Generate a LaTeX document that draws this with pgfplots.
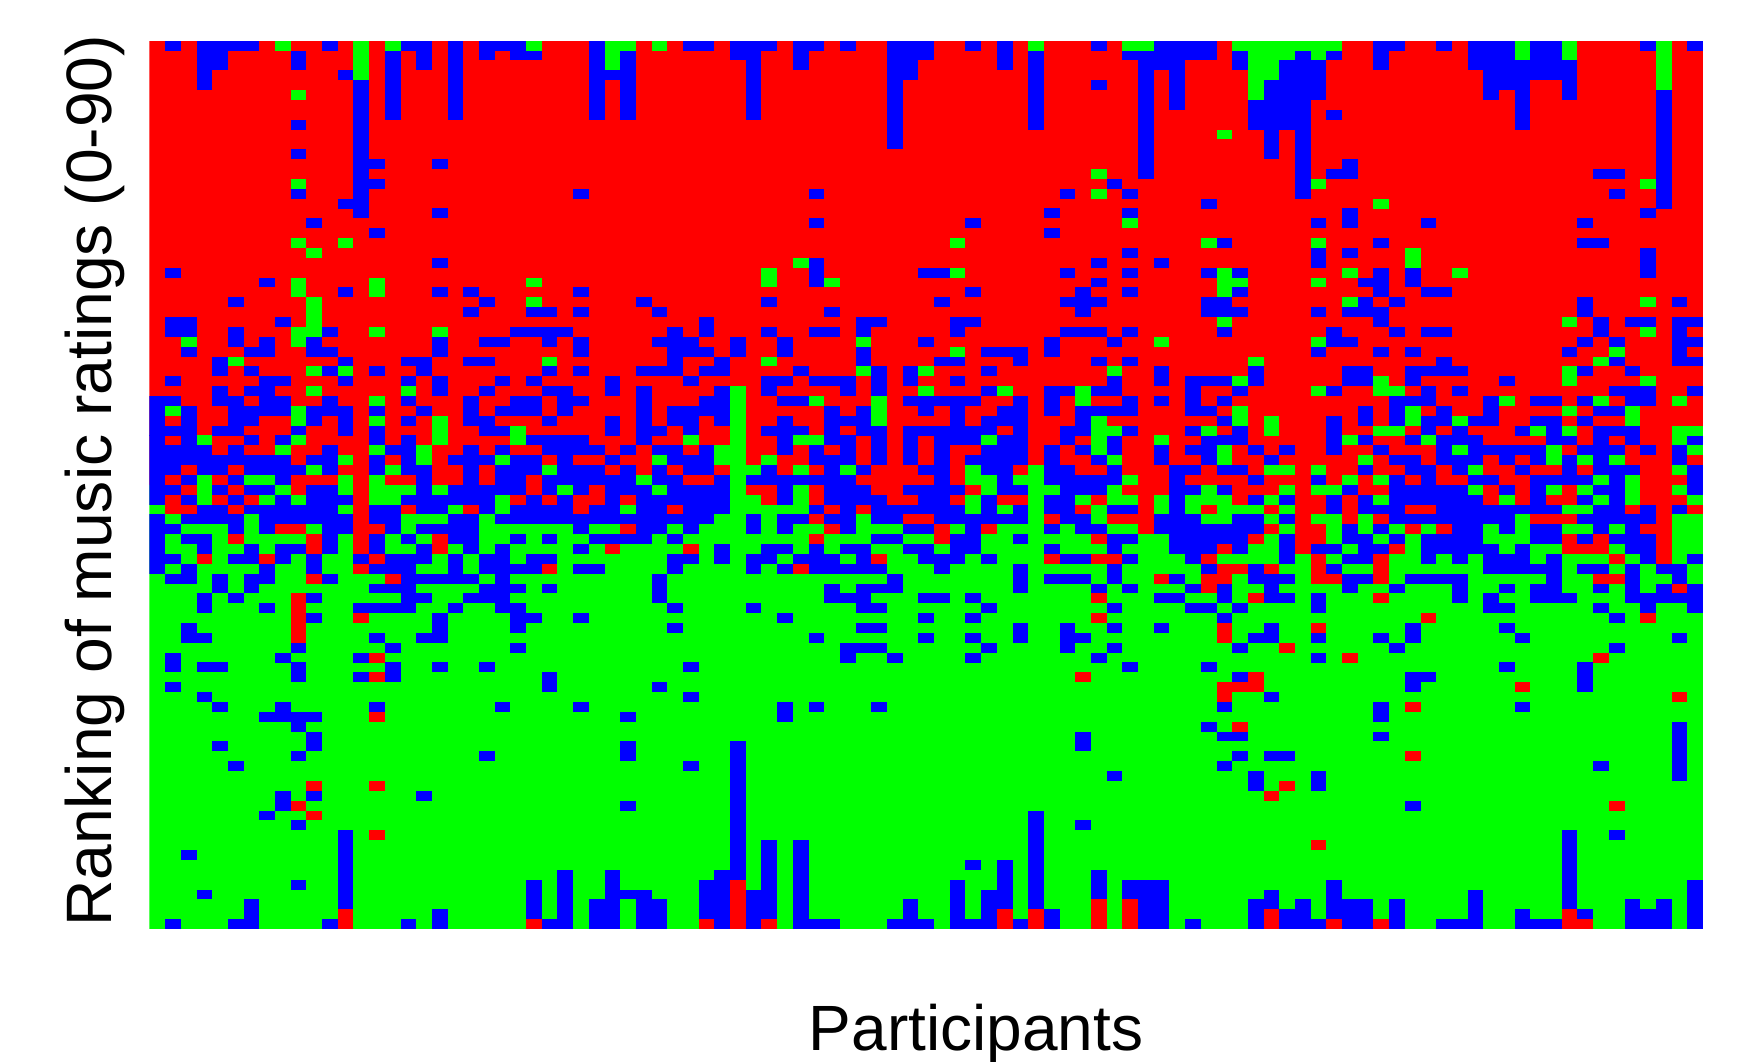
\documentclass[border=0pt]{standalone}
\usepackage{pgfplots}
\usepackage{pgfplotstable}
\pgfplotsset{compat=1.18}
\usepackage{fontspec}
\setmainfont{Liberation Sans}
\pgfplotsset{run/.style={draw=none,mark=none,forget plot,error bars/.cd,x dir=plus,x explicit,error mark=none,error bar style={line width=4.95pt,solid,color=#1}}}
\pgfplotstableread[row sep=\\]{
x y n\\
1 0 1\\3 0 4\\11 0 1\\16 0 2\\19 0 1\\21 0 3\\28 0 1\\34 0 2\\37 0 3\\41 0 2\\44 0 1\\47 0 3\\52 0 1\\54 0 1\\60 0 1\\64 0 4\\78 0 2\\82 0 1\\84 0 3\\88 0 2\\95 0 1\\98 0 1\\
3 1 2\\9 1 1\\15 1 1\\17 1 1\\19 1 1\\21 1 1\\23 1 2\\28 1 1\\30 1 1\\37 1 2\\41 1 1\\47 1 3\\54 1 1\\56 1 1\\62 1 6\\69 1 1\\73 1 1\\75 1 1\\78 1 1\\84 1 3\\88 1 2\\
3 2 2\\9 2 1\\15 2 1\\17 2 1\\19 2 1\\28 2 1\\30 2 1\\38 2 1\\41 2 1\\47 2 2\\54 2 1\\56 2 1\\63 2 3\\69 2 1\\72 2 3\\78 2 1\\84 2 7\\
3 3 1\\12 3 1\\15 3 1\\19 3 1\\28 3 3\\38 3 1\\47 3 2\\56 3 1\\63 3 1\\65 3 1\\72 3 3\\85 3 6\\
3 4 1\\13 4 1\\15 4 1\\19 4 1\\28 4 1\\30 4 1\\38 4 1\\47 4 1\\56 4 1\\60 4 1\\63 4 1\\65 4 1\\71 4 4\\85 4 3\\90 4 1\\
13 5 1\\15 5 1\\19 5 1\\28 5 1\\30 5 1\\38 5 1\\47 5 1\\56 5 1\\63 5 1\\65 5 1\\71 5 4\\85 5 1\\87 5 1\\90 5 1\\96 5 1\\
13 6 1\\15 6 1\\19 6 1\\28 6 1\\30 6 1\\38 6 1\\47 6 1\\56 6 1\\63 6 1\\65 6 1\\70 6 4\\87 6 1\\96 6 1\\
13 7 1\\15 7 1\\19 7 1\\28 7 1\\30 7 1\\38 7 1\\47 7 1\\56 7 1\\63 7 1\\70 7 4\\75 7 1\\87 7 1\\96 7 1\\
9 8 1\\13 8 1\\47 8 1\\56 8 1\\63 8 1\\70 8 4\\87 8 1\\96 8 1\\
13 9 1\\47 9 1\\63 9 1\\71 9 1\\73 9 1\\96 9 1\\
13 10 1\\47 10 1\\63 10 1\\71 10 1\\73 10 1\\96 10 1\\
9 11 1\\13 11 1\\63 11 1\\71 11 1\\73 11 1\\96 11 1\\
13 12 2\\18 12 1\\63 12 1\\73 12 1\\76 12 1\\96 12 1\\
13 13 1\\63 13 1\\73 13 1\\75 13 2\\92 13 2\\96 13 1\\
13 14 2\\61 14 1\\73 14 1\\96 14 1\\
9 15 1\\13 15 1\\27 15 1\\42 15 1\\58 15 1\\62 15 1\\73 15 1\\93 15 1\\96 15 1\\
12 16 2\\67 16 1\\96 16 1\\
13 17 1\\18 17 1\\57 17 1\\62 17 1\\76 17 1\\95 17 1\\
10 18 1\\42 18 1\\52 18 1\\74 18 1\\76 18 1\\81 18 1\\91 18 1\\
14 19 1\\57 19 1\\
68 20 1\\78 20 1\\91 20 2\\
62 21 1\\74 21 1\\76 21 1\\95 21 1\\
18 22 1\\42 22 1\\60 22 1\\64 22 1\\74 22 1\\95 22 1\\
1 23 1\\42 23 1\\49 23 2\\58 23 1\\62 23 1\\67 23 1\\69 23 1\\78 23 1\\80 23 1\\95 23 1\\
7 24 1\\42 24 1\\60 24 1\\77 24 2\\80 24 1\\
12 25 1\\18 25 1\\20 25 1\\27 25 1\\52 25 1\\59 25 1\\62 25 1\\69 25 1\\78 25 1\\81 25 2\\
5 26 1\\21 26 1\\31 26 1\\39 26 1\\50 26 1\\58 26 3\\67 26 2\\77 26 1\\79 26 1\\91 26 1\\97 26 1\\
20 27 1\\24 27 2\\27 27 1\\32 27 1\\43 27 1\\59 27 1\\67 27 3\\74 27 1\\76 27 3\\91 27 1\\
1 28 2\\8 28 1\\35 28 1\\45 28 2\\51 28 2\\78 28 1\\92 28 1\\94 28 2\\97 28 2\\
1 29 2\\5 29 1\\11 29 1\\23 29 4\\33 29 1\\35 29 1\\39 29 1\\42 29 2\\45 29 1\\51 29 1\\58 29 3\\62 29 1\\68 29 1\\75 29 1\\79 29 1\\81 29 2\\92 29 1\\97 29 1\\
5 30 1\\7 30 1\\10 30 1\\18 30 1\\21 30 2\\25 30 1\\27 30 1\\32 30 3\\37 30 1\\40 30 1\\49 30 1\\57 30 1\\61 30 1\\75 30 2\\91 30 1\\93 30 1\\97 30 2\\
2 31 1\\6 31 2\\10 31 2\\18 31 1\\27 31 1\\33 31 3\\37 31 1\\40 31 1\\45 31 1\\53 31 3\\57 31 1\\74 31 1\\78 31 1\\80 31 1\\90 31 1\\97 31 1\\
4 32 1\\12 32 1\\16 32 2\\20 32 2\\33 32 1\\36 32 1\\45 32 1\\50 32 2\\55 32 1\\60 32 1\\62 32 1\\82 32 1\\93 32 1\\97 32 2\\
4 33 1\\6 33 1\\11 33 1\\14 33 1\\17 33 1\\25 33 1\\27 33 1\\31 33 3\\35 33 2\\41 33 1\\46 33 1\\48 33 1\\53 33 1\\64 33 1\\70 33 1\\76 33 2\\80 33 4\\91 33 1\\94 33 1\\
1 34 1\\7 34 2\\12 34 1\\16 34 1\\18 34 1\\22 34 1\\24 34 1\\29 34 1\\34 34 1\\39 34 2\\42 34 3\\46 34 1\\48 34 1\\51 34 1\\61 34 1\\64 34 1\\66 34 3\\70 34 1\\76 34 2\\80 34 1\\86 34 1\\
4 35 1\\6 35 2\\18 35 1\\21 35 1\\25 35 2\\29 35 1\\31 35 1\\36 35 1\\39 35 1\\44 35 1\\46 35 1\\53 35 1\\57 35 2\\60 35 2\\66 35 1\\69 35 1\\75 35 1\\81 35 1\\83 35 1\\93 35 3\\98 35 1\\
0 36 2\\4 36 2\\7 36 2\\11 36 1\\16 36 1\\20 36 1\\23 36 2\\26 36 2\\31 36 1\\35 36 2\\40 36 2\\48 36 5\\55 36 1\\57 36 1\\62 36 1\\64 36 1\\66 36 1\\68 36 1\\79 36 3\\85 36 1\\88 36 2\\91 36 1\\94 36 2\\
0 37 1\\2 37 1\\5 37 4\\10 37 3\\14 37 1\\17 37 1\\20 37 1\\22 37 3\\26 37 1\\31 37 1\\33 37 4\\43 37 1\\45 37 1\\49 37 1\\51 37 1\\54 37 2\\57 37 1\\59 37 4\\66 37 2\\77 37 1\\79 37 1\\82 37 1\\85 37 1\\92 37 2\\
0 38 1\\2 38 1\\5 38 2\\10 38 1\\12 38 1\\16 38 1\\20 38 2\\25 38 1\\29 38 1\\31 38 1\\33 38 2\\36 38 1\\40 38 1\\43 38 3\\51 38 1\\53 38 3\\59 38 1\\68 38 1\\75 38 1\\77 38 1\\79 38 1\\81 38 2\\84 38 2\\88 38 2\\91 38 1\\
0 39 3\\4 39 2\\9 39 1\\12 39 1\\14 39 1\\21 39 2\\29 39 1\\31 39 2\\34 39 1\\39 39 3\\43 39 1\\45 39 2\\48 39 6\\55 39 1\\58 39 2\\62 39 1\\66 39 1\\69 39 1\\75 39 1\\81 39 1\\83 39 1\\87 39 1\\89 39 1\\92 39 3\\
0 40 1\\2 40 1\\6 40 1\\8 40 1\\14 40 1\\16 40 1\\24 40 4\\31 40 1\\40 40 1\\43 40 2\\46 40 1\\48 40 1\\50 40 3\\54 40 2\\58 40 1\\61 40 1\\67 40 3\\75 40 1\\77 40 1\\80 40 1\\82 40 3\\89 40 2\\92 40 1\\94 40 1\\98 40 1\\
0 41 4\\5 41 1\\11 41 1\\15 41 2\\20 41 1\\22 41 1\\25 41 4\\30 41 1\\32 41 2\\35 41 1\\40 41 1\\42 41 1\\44 41 1\\46 41 1\\48 41 1\\50 41 1\\53 41 3\\57 41 1\\59 41 1\\61 41 1\\64 41 1\\66 41 2\\70 41 1\\72 41 1\\75 41 1\\78 41 1\\82 41 1\\84 41 5\\91 41 3\\95 41 1\\97 41 1\\
0 42 9\\10 42 2\\14 42 1\\16 42 1\\19 42 3\\23 42 2\\26 42 1\\29 42 1\\33 42 3\\42 42 3\\46 42 1\\48 42 1\\50 42 1\\52 42 4\\57 42 1\\60 42 1\\64 42 1\\67 42 1\\71 42 1\\79 42 2\\82 42 3\\86 42 1\\88 42 1\\90 42 1\\92 42 1\\97 42 1\\
0 43 2\\3 43 2\\6 43 4\\11 43 1\\14 43 1\\16 43 2\\20 43 1\\22 43 3\\26 43 3\\30 43 1\\32 43 1\\34 43 2\\39 43 1\\43 43 1\\45 43 1\\49 43 2\\53 43 2\\57 43 2\\61 43 1\\65 43 2\\68 43 2\\77 43 1\\80 43 2\\83 43 1\\87 43 1\\90 43 1\\92 43 3\\98 43 1\\
0 44 1\\2 44 1\\5 44 1\\8 44 1\\17 44 1\\20 44 1\\22 44 2\\25 44 6\\32 44 2\\36 44 1\\38 44 7\\50 44 1\\54 44 1\\57 44 5\\65 44 1\\70 44 1\\74 44 1\\79 44 1\\81 44 1\\84 44 2\\88 44 4\\93 44 1\\98 44 1\\
0 45 2\\4 45 1\\6 45 2\\10 45 2\\17 45 1\\19 45 5\\25 45 1\\27 45 1\\29 45 3\\33 45 4\\40 45 1\\43 45 3\\48 45 4\\54 45 2\\58 45 3\\65 45 2\\68 45 1\\76 45 1\\79 45 5\\86 45 1\\88 45 1\\92 45 2\\98 45 1\\
0 46 1\\2 46 1\\5 46 1\\8 46 1\\10 46 3\\16 46 6\\24 46 1\\26 46 1\\29 46 1\\31 46 6\\40 46 1\\43 46 4\\49 46 2\\53 46 1\\57 46 2\\65 46 1\\70 46 1\\72 46 1\\75 46 1\\77 46 1\\79 46 6\\88 46 1\\91 46 1\\93 46 1\\
3 47 2\\6 47 6\\14 47 2\\17 47 2\\21 47 1\\23 47 4\\28 47 2\\31 47 2\\34 47 3\\42 47 1\\44 47 1\\46 47 6\\53 47 1\\55 47 1\\57 47 2\\61 47 2\\65 47 1\\75 47 1\\77 47 3\\82 47 8\\92 47 2\\95 47 1\\97 47 1\\
0 48 1\\2 48 4\\7 48 6\\14 48 2\\19 48 2\\22 48 14\\38 48 1\\40 48 2\\43 48 2\\46 48 2\\50 48 6\\58 48 2\\64 48 3\\69 48 2\\72 48 1\\79 48 8\\91 48 5\\
0 49 2\\5 49 1\\7 49 1\\11 49 2\\15 49 1\\17 49 4\\27 49 1\\31 49 2\\34 49 1\\38 49 1\\40 49 1\\44 49 1\\48 49 2\\52 49 1\\57 49 1\\59 49 2\\64 49 7\\76 49 1\\78 49 1\\83 49 2\\86 49 1\\88 49 2\\92 49 1\\94 49 1\\
0 50 1\\2 50 2\\11 50 1\\14 50 1\\16 50 1\\19 50 2\\23 50 1\\25 50 1\\28 50 4\\33 50 1\\46 50 2\\51 50 2\\55 50 1\\61 50 2\\65 50 5\\72 50 1\\76 50 2\\79 50 1\\81 50 4\\88 50 2\\91 50 1\\93 50 3\\
0 51 1\\3 51 1\\6 51 1\\8 51 2\\11 51 1\\14 51 1\\17 51 1\\20 51 1\\22 51 1\\27 51 1\\36 51 1\\39 51 2\\42 51 1\\44 51 2\\48 51 2\\51 51 2\\57 51 1\\61 51 1\\65 51 3\\69 51 1\\72 51 1\\74 51 2\\77 51 2\\81 51 5\\87 51 1\\94 51 2\\
0 52 2\\5 52 2\\8 52 1\\10 52 1\\13 52 1\\15 52 3\\19 52 1\\21 52 2\\24 52 2\\33 52 2\\36 52 1\\38 52 2\\41 52 3\\45 52 1\\49 52 3\\53 52 1\\58 52 2\\62 52 1\\66 52 1\\72 52 1\\76 52 2\\81 52 1\\83 52 1\\85 52 3\\89 52 1\\95 52 1\\98 52 1\\
0 53 1\\2 53 1\\7 53 1\\10 53 1\\14 53 3\\19 53 1\\21 53 4\\27 53 2\\33 53 1\\38 53 1\\40 53 1\\42 53 5\\50 53 1\\55 53 1\\61 53 1\\67 53 1\\70 53 1\\75 53 1\\85 53 5\\91 53 2\\94 53 1\\96 53 2\\
1 54 2\\4 54 1\\6 54 2\\11 54 1\\16 54 5\\22 54 1\\32 54 1\\47 54 1\\55 54 1\\57 54 3\\61 54 1\\65 54 1\\70 54 3\\76 54 2\\80 54 4\\89 54 1\\94 54 1\\97 54 1\\
4 55 1\\6 55 1\\14 55 3\\21 55 3\\25 55 1\\32 55 1\\43 55 1\\45 55 3\\55 55 1\\60 55 1\\62 55 1\\66 55 1\\68 55 1\\71 55 1\\76 55 1\\79 55 1\\83 55 1\\86 55 1\\88 55 2\\92 55 1\\94 55 1\\96 55 1\\98 55 1\\
3 56 1\\5 56 1\\10 56 1\\16 56 2\\20 56 3\\32 56 1\\43 56 3\\49 56 2\\52 56 1\\64 56 2\\68 56 1\\71 56 2\\74 56 1\\83 56 1\\85 56 1\\88 56 3\\94 56 5\\
3 57 1\\7 57 1\\13 57 4\\19 57 1\\22 57 2\\33 57 1\\38 57 1\\45 57 2\\53 57 1\\61 57 1\\66 57 2\\69 57 1\\74 57 1\\85 57 2\\92 57 1\\95 57 1\\98 57 1\\
10 58 1\\18 58 1\\23 58 2\\27 58 1\\40 58 1\\49 58 1\\52 58 1\\68 58 1\\93 58 1\\
2 59 1\\18 59 1\\23 59 1\\33 59 1\\45 59 2\\55 59 1\\58 59 1\\61 59 1\\64 59 1\\71 59 1\\80 59 1\\86 59 1\\
2 60 2\\14 60 1\\17 60 2\\42 60 1\\49 60 1\\52 60 1\\55 60 1\\58 60 2\\70 60 2\\74 60 1\\78 60 1\\80 60 1\\87 60 1\\97 60 1\\
9 61 1\\15 61 1\\23 61 1\\44 61 3\\53 61 1\\58 61 1\\61 61 1\\69 61 1\\79 61 1\\93 61 1\\
1 62 1\\8 62 1\\13 62 1\\44 62 1\\47 62 1\\52 62 1\\60 62 1\\74 62 1\\
1 63 1\\3 63 2\\9 63 1\\15 63 1\\18 63 1\\21 63 1\\34 63 1\\62 63 1\\67 63 1\\86 63 1\\91 63 1\\
9 64 1\\13 64 1\\15 64 1\\25 64 1\\69 64 1\\80 64 2\\91 64 1\\
1 65 1\\25 65 1\\32 65 1\\80 65 1\\91 65 1\\
3 66 1\\34 66 1\\71 66 1\\
4 67 1\\8 67 1\\14 67 1\\22 67 1\\27 67 1\\40 67 1\\42 67 1\\46 67 1\\68 67 1\\78 67 1\\87 67 1\\
7 68 4\\30 68 1\\40 68 1\\78 68 1\\
9 69 1\\67 69 1\\97 69 1\\
10 70 1\\59 70 1\\68 70 2\\78 70 1\\97 70 1\\
4 71 1\\10 71 1\\30 71 1\\37 71 1\\59 71 1\\97 71 1\\
9 72 1\\21 72 1\\30 72 1\\37 72 1\\69 72 1\\71 72 2\\97 72 1\\
5 73 1\\34 73 1\\37 73 1\\68 73 1\\92 73 1\\97 73 1\\
37 74 1\\61 74 1\\70 74 1\\74 74 1\\97 74 1\\
37 75 1\\70 75 1\\74 75 1\\
8 76 1\\10 76 1\\17 76 1\\37 76 1\\
8 77 1\\30 77 1\\37 77 1\\80 77 1\\
7 78 1\\37 78 1\\56 78 1\\
9 79 1\\37 79 1\\56 79 1\\59 79 1\\
12 80 1\\37 80 1\\56 80 1\\90 80 1\\93 80 1\\
12 81 1\\37 81 1\\39 81 1\\41 81 1\\56 81 1\\90 81 1\\
2 82 1\\12 82 1\\37 82 1\\39 82 1\\41 82 1\\56 82 1\\90 82 1\\
12 83 1\\37 83 1\\39 83 1\\41 83 1\\52 83 1\\54 83 1\\56 83 1\\90 83 1\\
12 84 1\\26 84 1\\29 84 1\\36 84 2\\39 84 1\\41 84 1\\54 84 1\\56 84 1\\60 84 1\\90 84 1\\
9 85 1\\12 85 1\\24 85 1\\26 85 1\\29 85 1\\35 85 2\\39 85 1\\41 85 1\\51 85 1\\54 85 1\\56 85 1\\60 85 1\\62 85 3\\75 85 1\\90 85 1\\98 85 1\\
3 86 1\\12 86 1\\24 86 1\\26 86 1\\29 86 3\\35 86 2\\38 86 2\\41 86 1\\51 86 1\\53 86 2\\56 86 1\\60 86 1\\62 86 3\\71 86 1\\75 86 1\\84 86 1\\90 86 1\\98 86 1\\
6 87 1\\12 87 1\\24 87 1\\26 87 1\\28 87 2\\31 87 2\\35 87 2\\38 87 2\\41 87 1\\48 87 1\\51 87 1\\53 87 2\\56 87 1\\63 87 2\\70 87 2\\73 87 1\\75 87 3\\79 87 1\\84 87 1\\90 87 1\\94 87 1\\96 87 1\\98 87 1\\
6 88 1\\18 88 1\\24 88 1\\26 88 1\\28 88 2\\31 88 2\\35 88 2\\38 88 2\\41 88 1\\48 88 1\\51 88 1\\53 88 1\\57 88 1\\63 88 2\\70 88 1\\72 88 2\\75 88 3\\79 88 1\\84 88 1\\87 88 1\\91 88 1\\94 88 3\\98 88 1\\
1 89 1\\5 89 2\\11 89 1\\16 89 1\\18 89 1\\25 89 2\\28 89 2\\31 89 2\\36 89 1\\38 89 1\\41 89 3\\47 89 3\\51 89 3\\55 89 1\\57 89 1\\63 89 2\\66 89 1\\70 89 1\\72 89 3\\76 89 2\\79 89 1\\82 89 3\\87 89 3\\94 89 3\\98 89 1\\
}\bluecells
\pgfplotstableread[row sep=\\]{
x y n\\
8 0 1\\13 0 1\\15 0 1\\24 0 1\\29 0 2\\32 0 1\\56 0 1\\62 0 2\\69 0 7\\87 0 1\\90 0 1\\96 0 1\\
13 1 1\\29 1 1\\70 1 3\\74 1 1\\87 1 1\\90 1 1\\96 1 1\\
13 2 1\\29 2 1\\70 2 2\\96 2 1\\
13 3 1\\70 3 2\\96 3 1\\
70 4 1\\96 4 1\\
9 5 1\\70 5 1\\
68 9 1\\
60 13 1\\
9 14 1\\74 14 1\\95 14 1\\
60 15 1\\
78 16 1\\
62 18 1\\
9 20 1\\12 20 1\\51 20 1\\67 20 1\\74 20 1\\
10 21 1\\80 21 1\\
41 22 1\\80 22 1\\
39 23 1\\51 23 1\\68 23 1\\76 23 1\\83 23 1\\
9 24 1\\14 24 1\\24 24 1\\39 24 1\\43 24 1\\68 24 1\\74 24 1\\69 24 1\\
9 25 1\\14 25 1\\68 25 1\\
10 26 1\\24 26 1\\76 26 1\\95 26 1\\
10 27 1\\
10 28 1\\68 28 1\\90 28 1\\
9 29 2\\14 29 1\\18 29 1\\95 29 1\\
2 30 1\\9 30 1\\45 30 1\\64 30 1\\74 30 1\\
51 31 1\\93 31 1\\
5 32 1\\25 32 1\\39 32 1\\70 32 1\\92 32 1\\
10 33 1\\12 33 1\\45 33 1\\49 33 1\\61 33 1\\90 33 1\\
69 34 1\\78 34 1\\90 34 1\\95 34 1\\
10 35 1\\16 35 1\\37 35 1\\49 35 1\\54 35 1\\59 35 1\\74 35 1\\78 35 2\\
14 36 1\\37 36 1\\42 36 1\\46 36 1\\59 36 1\\86 36 1\\92 36 1\\97 36 1\\
1 37 1\\9 37 1\\37 37 1\\46 37 1\\69 37 1\\80 37 1\\90 37 1\\94 37 1\\
9 38 1\\14 38 1\\18 38 1\\37 38 1\\46 38 1\\60 38 1\\69 38 1\\71 38 1\\80 38 1\\83 38 1\\94 38 1\\
18 39 1\\23 39 1\\37 39 1\\60 39 2\\67 39 1\\71 39 1\\78 39 2\\88 39 1\\90 39 1\\97 39 2\\
3 40 1\\9 40 1\\18 40 1\\23 40 1\\34 40 1\\37 40 1\\41 40 2\\53 40 1\\60 40 1\\64 40 1\\76 40 1\\81 40 1\\97 40 1\\
8 41 1\\14 41 1\\17 41 1\\36 41 2\\60 41 1\\68 41 1\\83 41 1\\89 41 1\\98 41 1\\
12 42 1\\17 42 1\\22 42 1\\32 42 1\\36 42 2\\39 42 1\\61 42 1\\68 42 1\\77 42 1\\89 42 1\\91 42 1\\93 42 1\\
10 43 1\\15 43 1\\25 43 1\\37 43 2\\41 43 1\\44 43 1\\52 43 1\\56 43 1\\71 43 2\\74 43 1\\84 43 1\\97 43 1\\
3 44 1\\6 44 2\\12 44 1\\14 44 1\\31 44 1\\37 44 1\\52 44 2\\55 44 2\\62 44 1\\76 44 1\\78 44 1\\92 44 1\\94 44 1\\
}\greencells
\pgfplotstableread[row sep=\\]{
x y n\\
2 45 1\\5 45 1\\9 45 1\\13 45 1\\24 45 1\\28 45 1\\38 45 2\\42 45 1\\46 45 2\\52 45 1\\62 45 3\\69 45 3\\73 45 1\\77 45 2\\85 45 1\\87 45 1\\90 45 1\\95 45 2\\
1 46 1\\4 46 1\\6 46 1\\13 46 1\\23 46 1\\25 46 1\\27 46 2\\30 46 1\\39 46 1\\42 46 1\\47 46 2\\51 46 1\\54 46 2\\60 46 1\\63 46 1\\69 46 1\\73 46 2\\76 46 1\\85 46 1\\87 46 1\\89 46 2\\95 46 3\\
1 47 2\\5 47 1\\13 47 1\\16 47 1\\20 47 1\\27 47 1\\33 47 1\\43 47 1\\45 47 1\\59 47 1\\63 47 1\\67 47 1\\71 47 1\\73 47 2\\76 47 1\\80 47 2\\94 47 1\\96 47 1\\98 47 1\\
13 48 1\\42 48 1\\48 48 2\\57 48 1\\61 48 3\\73 48 1\\76 48 1\\78 48 1\\88 48 3\\96 48 1\\
8 49 2\\13 49 2\\30 49 1\\43 49 1\\50 49 1\\53 49 1\\63 49 1\\71 49 1\\73 49 2\\80 49 1\\82 49 1\\95 49 2\\
5 50 1\\10 50 1\\13 50 1\\18 50 1\\42 50 1\\50 50 1\\60 50 1\\70 50 1\\73 50 2\\90 50 1\\92 50 1\\96 50 1\\
10 51 1\\13 51 1\\18 51 1\\29 51 1\\34 51 1\\68 51 1\\73 51 1\\79 51 1\\90 51 3\\96 51 1\\
3 52 1\\7 52 1\\14 52 1\\46 52 1\\57 52 1\\60 52 2\\67 52 1\\74 52 1\\78 52 1\\93 52 1\\96 52 1\\
13 53 1\\25 53 1\\41 53 1\\68 53 2\\71 53 1\\74 53 1\\78 53 1\\
10 54 1\\15 54 1\\64 54 1\\67 54 2\\74 54 2\\78 54 1\\92 54 2\\
67 55 1\\97 55 1\\
9 56 1\\60 56 1\\70 56 1\\78 56 1\\
9 57 1\\
9 58 1\\13 58 1\\60 58 1\\81 58 1\\95 58 1\\
9 59 1\\68 59 1\\74 59 1\\
9 60 1\\68 60 1\\
72 61 1\\
14 62 1\\76 62 1\\92 62 1\\
14 64 1\\59 64 1\\70 64 1\\
68 65 3\\87 65 1\\
68 66 1\\97 66 1\\
80 67 1\\
14 68 1\\
69 69 1\\
80 72 1\\
10 75 1\\14 75 1\\72 75 1\\
71 76 1\\
9 77 1\\93 77 1\\
10 78 1\\
14 80 1\\
74 81 1\\
37 85 1\\
37 86 1\\
37 87 1\\60 87 1\\62 87 1\\
12 88 1\\37 88 1\\54 88 1\\56 88 1\\60 88 1\\62 88 1\\71 88 1\\90 88 1\\
12 89 1\\24 89 1\\35 89 1\\37 89 1\\39 89 1\\54 89 1\\56 89 1\\60 89 1\\62 89 1\\71 89 1\\75 89 1\\78 89 1\\90 89 2\\
}\redcells
\begin{document}
\begin{tikzpicture}[x=1pt,y=1pt]
\path[use as bounding box] (-74.75,-66) rectangle (794.75,464.5);
\begin{axis}[at={(0,0)},anchor=south west,scale only axis,width=776.75pt,height=444.15pt,
  xmin=0,xmax=99,ymin=0,ymax=90,ticks=none,axis line style={draw=none},clip=true,
  xlabel={Participants},ylabel={Ranking of music ratings (0-90)},
  xlabel style={at={(axis description cs:0.532,-0.1185)},anchor=center,font=\fontsize{32}{36}\selectfont},
  ylabel style={at={(axis description cs:-0.0352,0.5045)},anchor=center,font=\fontsize{32.1}{36}\selectfont}]
\addplot[fill=red,draw=none,forget plot] coordinates {(0,45)(99,45)(99,90)(0,90)};
\addplot[fill=green,draw=none,forget plot] coordinates {(0,0)(99,0)(99,45)(0,45)};
\addplot[run=blue] table[x=x,y expr=89.5-\thisrow{y},x error=n]{\bluecells};
\addplot[run=green] table[x=x,y expr=89.5-\thisrow{y},x error=n]{\greencells};
\addplot[run=red] table[x=x,y expr=89.5-\thisrow{y},x error=n]{\redcells};
\end{axis}
\end{tikzpicture}
\end{document}
